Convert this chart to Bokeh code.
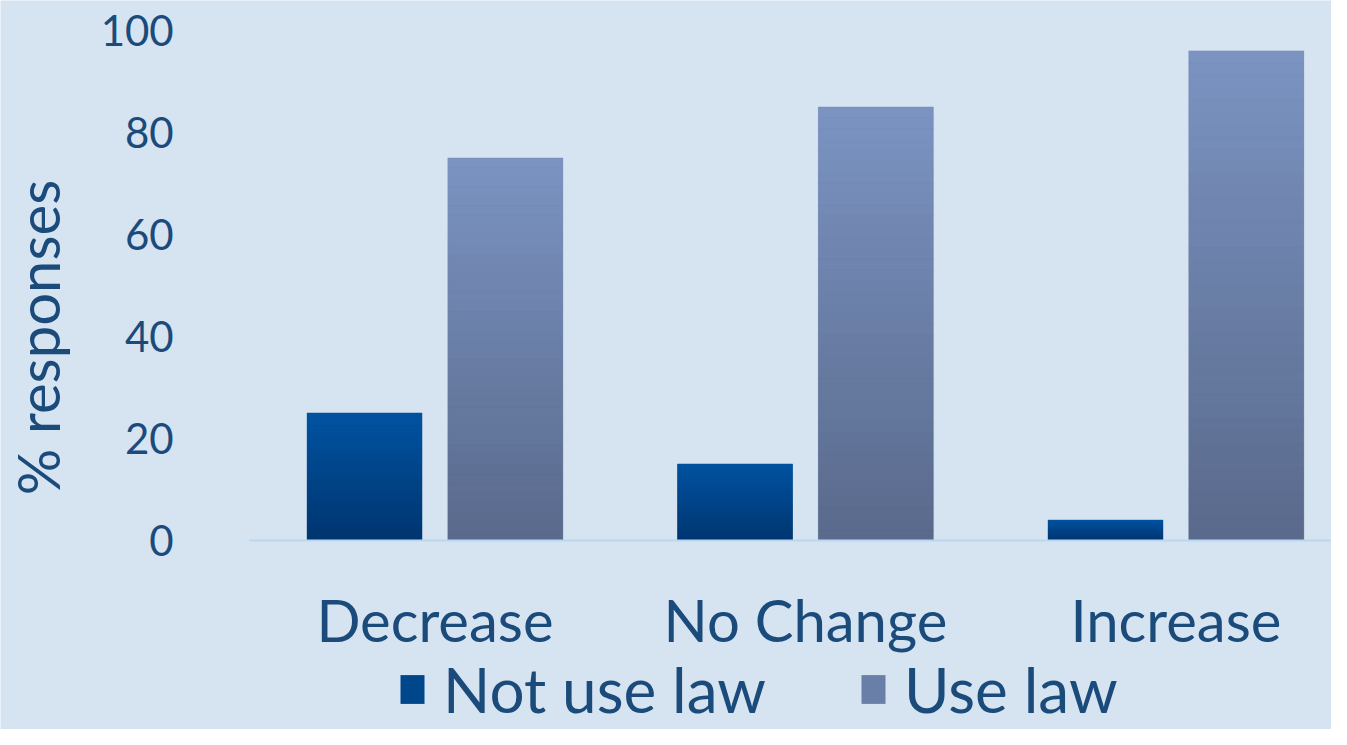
import numpy as np
from bokeh.plotting import figure
from bokeh.models import Range1d, FixedTicker, Legend, LegendItem, Label, ColumnDataSource
from bokeh.embed import file_html
from bokeh.resources import INLINE

# ---- data ----
categories = ["Decrease", "No Change", "Increase"]
not_use_law = [25, 15, 4]
use_law = [75, 85, 96]
series_names = ["Not use law", "Use law"]
y_ticks = [0, 20, 40, 60, 80, 100]

# ---- style ----
TEXT = "#1b4b7b"
BG = "#d6e3f1"
FONT = "Lato"
GRAD = {  # (top colour, bottom colour)
    "Not use law": ((0, 84, 162), (0, 54, 112)),
    "Use law": ((123, 148, 194), (90, 106, 140)),
}
MID = {"Not use law": "#00468a", "Use law": "#6a7fa8"}
OFFSETS = [-0.19, 0.19]
BAR_W = 0.31
NSLICE = 40

p = figure(width=1331, height=729, output_backend="svg", toolbar_location=None,
           x_range=Range1d(-0.6727, 2.92), y_range=Range1d(-37.06, 105.88),
           min_border_left=0, min_border_right=0, min_border_top=0, min_border_bottom=0,
           background_fill_color=BG, border_fill_color=BG, outline_line_color=None)
p.grid.visible = False

xc = [i + 0.5 for i in range(len(categories))]

legend_items = []
for name, vals, off in zip(series_names, [not_use_law, use_law], OFFSETS):
    xs = [x + off for x in xc]
    base = p.vbar(x=xs, top=vals, bottom=0, width=BAR_W, fill_color=MID[name], line_color=None)
    legend_items.append(LegendItem(label=name, renderers=[base]))
    (tr, tg, tb), (br, bg_, bb) = GRAD[name]
    sx, sb, st, sc = [], [], [], []
    for x, v in zip(xs, vals):
        for k in range(NSLICE):
            f = (k + 0.5) / NSLICE
            r = int(br + (tr - br) * f)
            g = int(bg_ + (tg - bg_) * f)
            b = int(bb + (tb - bb) * f)
            sx.append(x)
            sb.append(v * k / NSLICE)
            st.append(v * (k + 1) / NSLICE)
            sc.append("#%02x%02x%02x" % (r, g, b))
    p.vbar(x="x", bottom="b", top="t", width=BAR_W, fill_color="c", line_color="c",
           line_width=0.5, source=ColumnDataSource(dict(x=sx, b=sb, t=st, c=sc)))

# x axis, drawn at y = 0 inside the plot area
xa = p.xaxis[0]
xa.fixed_location = 0
xa.bounds = (0, 2.92)
xa.ticker = FixedTicker(ticks=xc)
xa.major_label_overrides = {x: c for x, c in zip(xc, categories)}
xa.axis_line_color = "#b9d7f0"
xa.axis_line_width = 2
xa.major_tick_line_color = None
xa.minor_tick_line_color = None
xa.major_label_text_font = FONT
xa.major_label_text_font_size = "58px"
xa.major_label_text_color = TEXT
xa.major_label_standoff = 39

# y axis, drawn at the left edge of the category area
ya = p.yaxis[0]
ya.fixed_location = 0
ya.ticker = FixedTicker(ticks=y_ticks)
ya.axis_line_color = None
ya.major_tick_line_color = None
ya.minor_tick_line_color = None
ya.major_label_text_font = FONT
ya.major_label_text_font_size = "42px"
ya.major_label_text_color = TEXT
ya.major_label_standoff = 70

p.add_layout(Label(x=-0.574, y=39.8, text="% responses", angle=np.pi / 2,
                   text_align="center", text_baseline="middle",
                   text_font=FONT, text_font_size="58px", text_color=TEXT))

legend = Legend(items=legend_items, orientation="horizontal", location=(397, 3),
                label_text_font=FONT, label_text_font_size="62px",
                label_text_color=TEXT, glyph_width=30, glyph_height=36,
                spacing=92, padding=0, margin=0, label_standoff=16,
                background_fill_alpha=0, border_line_color=None)
p.add_layout(legend, "center")

open("out.html", "w").write(file_html(p, INLINE))
